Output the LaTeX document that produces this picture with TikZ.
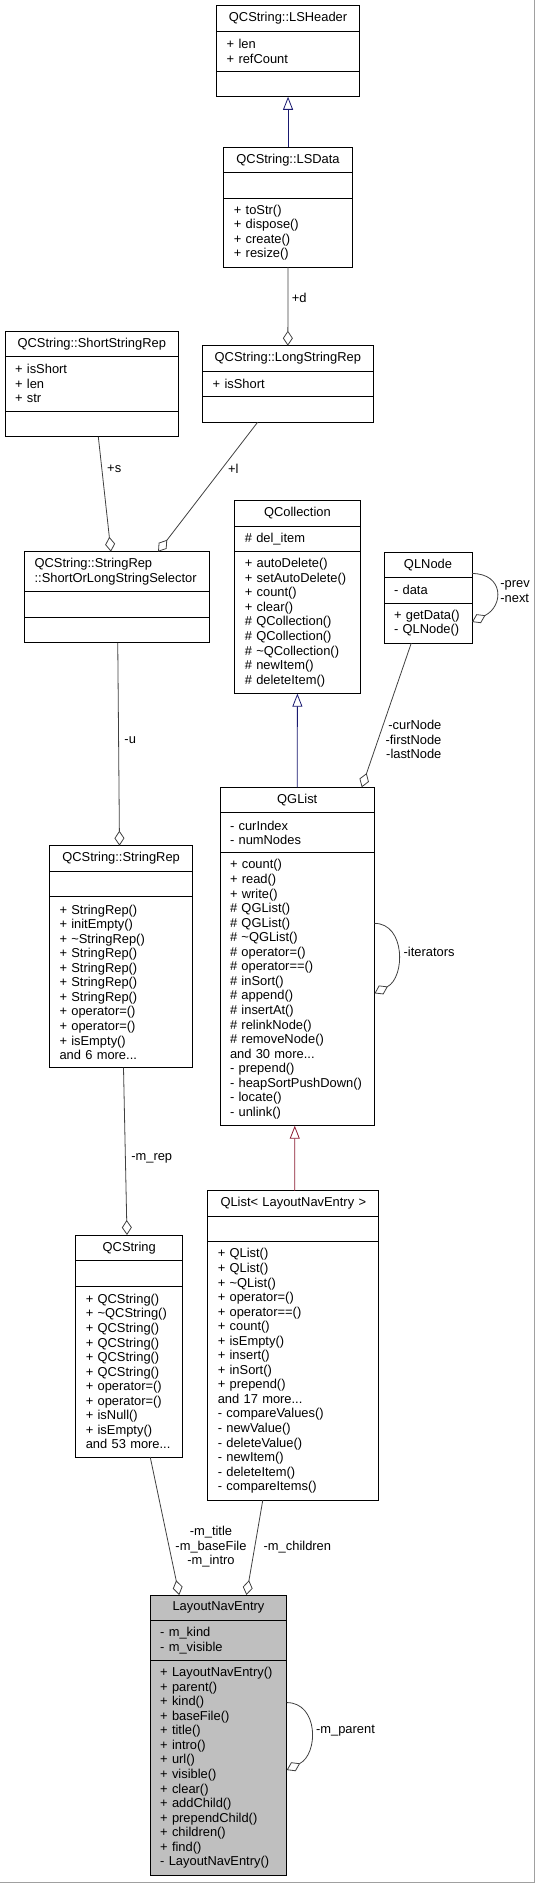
\documentclass[tikz,border=0pt]{standalone}
\usepackage{fontspec}
\setmainfont{Liberation Sans}
\usepackage{tikz}
\usetikzlibrary{arrows.meta,positioning}
\usepackage{xcolor}
\definecolor{edgegrey}{HTML}{404040}
\definecolor{inheritblue}{HTML}{191970}
\definecolor{tmplred}{HTML}{8B1A30}
\definecolor{focusgrey}{HTML}{BFBFBF}
\definecolor{framegrey}{HTML}{A0A0A0}
\newcommand{\umlfont}{\fontsize{12.9pt}{14.55pt}\selectfont}

\begin{document}
\begin{tikzpicture}[x=1pt, y=1pt, font=\umlfont,
    umltitle/.style={draw, line width=0.9pt, fill=white, anchor=north west, inner xsep=10pt, inner ysep=0pt, outer sep=0pt, align=center, minimum height=25.5pt},
    umlpart/.style={draw, line width=0.9pt, fill=white, inner xsep=10pt, inner ysep=0pt, outer sep=0pt, align=left},
    nrows/.style={minimum height={14.55pt*(#1-1)+25.5pt}},
    assoc/.style={draw=edgegrey, line width=0.8pt, -{Diamond[open, length=15pt, width=10pt]}},
    inherit/.style={draw=inheritblue, line width=0.8pt, -{Triangle[open, length=13pt, width=10pt]}},
    elabel/.style={inner sep=0pt, text=black}]
    \useasboundingbox (0,0) rectangle (535,-1883);

    \node[umltitle, text width=122.7pt] (lsh-t) at (216.7,-5.7) {QCString::LSHeader};
    \node[umlpart, text width=122.7pt, nrows=2, below=0pt of lsh-t] (lsh-a) {+ len\\+ refCount};
    \node[umlpart, text width=122.7pt, nrows=1, below=0pt of lsh-a] (lsh-m) {};

    \node[umltitle, text width=108.3pt] (lsd-t) at (223.9,-147) {QCString::LSData};
    \node[umlpart, text width=108.3pt, nrows=1, below=0pt of lsd-t] (lsd-a) {};
    \node[umlpart, text width=108.3pt, nrows=4, below=0pt of lsd-a] (lsd-m) {+ toStr()\\+ dispose()\\+ create()\\+ resize()};

    \node[umltitle, text width=153.4pt] (ssr-t) at (5.1,-331) {QCString::ShortStringRep};
    \node[umlpart, text width=153.4pt, nrows=3, below=0pt of ssr-t] (ssr-a) {+ isShort\\+ len\\+ str};
    \node[umlpart, text width=153.4pt, nrows=1, below=0pt of ssr-a] (ssr-m) {};

    \node[umltitle, text width=150.3pt] (lsr-t) at (202.7,-345.7) {QCString::LongStringRep};
    \node[umlpart, text width=150.3pt, nrows=1, below=0pt of lsr-t] (lsr-a) {+ isShort};
    \node[umlpart, text width=150.3pt, nrows=1, below=0pt of lsr-a] (lsr-m) {};

    \node[umltitle, text width=165.3pt, nrows=2, align=left] (sel-t) at (24.6,-551.7) {QCString::StringRep\\::ShortOrLongStringSelector};
    \node[umlpart, text width=165.3pt, nrows=1, below=0pt of sel-t] (sel-a) {};
    \node[umlpart, text width=165.3pt, nrows=1, below=0pt of sel-a] (sel-m) {};

    \node[umltitle, text width=105.2pt] (qcol-t) at (234.8,-500.7) {QCollection};
    \node[umlpart, text width=105.2pt, nrows=1, below=0pt of qcol-t] (qcol-a) {\# del\_item};
    \node[umlpart, text width=105.2pt, nrows=9, below=0pt of qcol-a] (qcol-m) {+ autoDelete()\\+ setAutoDelete()\\+ count()\\+ clear()\\\# QCollection()\\\# QCollection()\\\# \textasciitilde QCollection()\\\# newItem()\\\# deleteItem()};

    \node[umltitle, text width=68pt] (qln-t) at (384,-552) {QLNode};
    \node[umlpart, text width=68pt, nrows=1, below=0pt of qln-t] (qln-a) {- data};
    \node[umlpart, text width=68pt, nrows=2, below=0pt of qln-a] (qln-m) {+ getData()\\- QLNode()};

    \node[umltitle, text width=134.5pt] (qgl-t) at (220,-787.3) {QGList};
    \node[umlpart, text width=134.5pt, nrows=2, below=0pt of qgl-t] (qgl-a) {- curIndex\\- numNodes};
    \node[umlpart, text width=134.5pt, nrows=18, below=0pt of qgl-a] (qgl-m) {+ count()\\+ read()\\+ write()\\\# QGList()\\\# QGList()\\\# \textasciitilde QGList()\\\# operator=()\\\# operator==()\\\# inSort()\\\# append()\\\# insertAt()\\\# relinkNode()\\\# removeNode()\\and 30 more...\\- prepend()\\- heapSortPushDown()\\- locate()\\- unlink()};

    \node[umltitle, text width=123.2pt] (srep-t) at (49.5,-845.7) {QCString::StringRep};
    \node[umlpart, text width=123.2pt, nrows=1, below=0pt of srep-t] (srep-a) {};
    \node[umlpart, text width=123.2pt, nrows=11, below=0pt of srep-a] (srep-m) {+ StringRep()\\+ initEmpty()\\+ \textasciitilde StringRep()\\+ StringRep()\\+ StringRep()\\+ StringRep()\\+ StringRep()\\+ operator=()\\+ operator=()\\+ isEmpty()\\and 6 more...};

    \node[umltitle, text width=151pt] (qli-t) at (207.8,-1190.8) {QList< LayoutNavEntry >};
    \node[umlpart, text width=151pt, nrows=1, below=0pt of qli-t] (qli-a) {};
    \node[umlpart, text width=151pt, nrows=17, below=0pt of qli-a] (qli-m) {+ QList()\\+ QList()\\+ \textasciitilde QList()\\+ operator=()\\+ operator==()\\+ count()\\+ isEmpty()\\+ insert()\\+ inSort()\\+ prepend()\\and 17 more...\\- compareValues()\\- newValue()\\- deleteValue()\\- newItem()\\- deleteItem()\\- compareItems()};

    \node[umltitle, text width=86.8pt] (qcs-t) at (75.8,-1235) {QCString};
    \node[umlpart, text width=86.8pt, nrows=1, below=0pt of qcs-t] (qcs-a) {};
    \node[umlpart, text width=86.8pt, nrows=11, below=0pt of qcs-a] (qcs-m) {+ QCString()\\+ \textasciitilde QCString()\\+ QCString()\\+ QCString()\\+ QCString()\\+ QCString()\\+ operator=()\\+ operator=()\\+ isNull()\\+ isEmpty()\\and 53 more...};

    \node[umltitle, text width=116.5pt, fill=focusgrey] (lne-t) at (150.2,-1595) {LayoutNavEntry};
    \node[umlpart, text width=116.5pt, nrows=2, fill=focusgrey, below=0pt of lne-t] (lne-a) {- m\_kind\\- m\_visible};
    \node[umlpart, text width=116.5pt, nrows=14, fill=focusgrey, below=0pt of lne-a] (lne-m) {+ LayoutNavEntry()\\+ parent()\\+ kind()\\+ baseFile()\\+ title()\\+ intro()\\+ url()\\+ visible()\\+ clear()\\+ addChild()\\+ prependChild()\\+ children()\\+ find()\\- LayoutNavEntry()};

    \draw[inherit] (lsd-t.north) -- (lsh-m.south);
    \draw[inherit] (qgl-t.north) -- (qcol-m.south);
    \draw[inherit, draw=tmplred] ([xshift=1.5pt]qli-t.north) -- ([xshift=-2.5pt]qgl-m.south);

    \draw[assoc] (lsd-m.south) -- node[elabel, right=3.5pt, pos=0.39] {+d} (lsr-t.north);
    \draw[assoc] ([xshift=6.5pt]ssr-m.south) -- node[elabel, right=5pt, pos=0.28] {+s} ([xshift=-6.3pt]sel-t.north);
    \draw[assoc] ([xshift=-30.2pt]lsr-m.south) -- node[elabel, right=6pt, pos=0.36] {+l} ([xshift=40.8pt]sel-t.north);
    \draw[assoc] ([xshift=0.5pt]sel-m.south) -- node[elabel, right=5.5pt, pos=0.48] {-u} ([xshift=-1.6pt]srep-t.north);
    \draw[assoc] ([xshift=2.4pt]srep-m.south) -- node[elabel, right=5.5pt, pos=0.54] {-m\_rep} ([xshift=-2.2pt]qcs-t.north);
    \draw[assoc] ([xshift=-16.7pt]qln-m.south) -- node[elabel, right=7pt, pos=0.67, align=right] {-curNode\\-firstNode\\-lastNode} ([xshift=64.5pt]qgl-t.north);
    \draw[assoc] ([xshift=21pt]qcs-m.south) -- node[elabel, right=6pt, pos=0.65, align=center] {-m\_title\\-m\_baseFile\\-m\_intro} ([xshift=-39.2pt]lne-t.north);
    \draw[assoc] ([xshift=-30.5pt]qli-m.south) -- node[elabel, right=8.5pt, pos=0.49] {-m\_children} ([xshift=28pt]lne-t.north);

    \draw[assoc] ([yshift=4pt]qln-t.south east) .. controls +(32,0) and +(32,16) .. node[elabel, right=4pt, align=left] {-prev\\-next} ([yshift=-19pt]qln-m.north east);
    \draw[assoc] ([yshift=-70.5pt]qgl-m.north east) .. controls +(31,0) and +(31,16) .. node[elabel, right=5.5pt] {-iterators} ([yshift=-140.5pt]qgl-m.north east);
    \draw[assoc] ([yshift=-42pt]lne-m.north east) .. controls +(32,0) and +(32,16) .. node[elabel, right=5pt] {-m\_parent} ([yshift=-109.5pt]lne-m.north east);

    \draw[framegrey, line width=1pt] (534.5,0) -- (534.5,-1882.5) -- (0,-1882.5);
\end{tikzpicture}
\end{document}
